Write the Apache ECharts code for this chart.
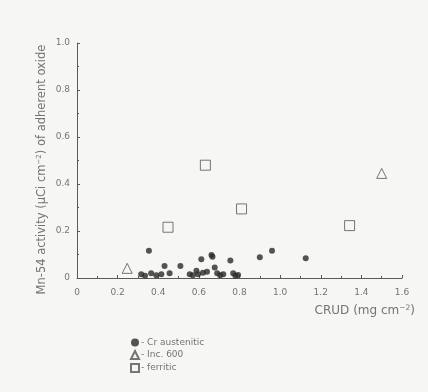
<!DOCTYPE html>
<html>
<head>
<meta charset="utf-8">
<script src="https://cdn.jsdelivr.net/npm/echarts@6/dist/echarts.min.js"></script>
<style>
html,body{margin:0;padding:0;background:#f6f6f4;}
#c{width:428px;height:392px;}
</style>
</head>
<body>
<div id="c"></div>
<script>
// CRUD (mg cm^-2) vs Mn-54 activity
const crAusteniticX = [0.354,0.316,0.365,0.415,0.431,0.456,0.509,0.555,0.588,0.596,0.612,0.640,0.662,0.667,0.678,0.690,0.720,0.755,0.769,0.793,0.900,0.960,1.126,0.335,0.390,0.570,0.620,0.705,0.780];
const crAusteniticY = [0.116,0.016,0.020,0.016,0.051,0.020,0.051,0.016,0.031,0.016,0.080,0.027,0.098,0.090,0.045,0.020,0.016,0.074,0.020,0.013,0.088,0.116,0.084,0.010,0.012,0.012,0.022,0.012,0.010];
const inc600X = [0.247,1.500];
const inc600Y = [0.041,0.445];
const ferriticX = [0.448,0.632,0.810,1.342];
const ferriticY = [0.216,0.480,0.294,0.223];
const seriesNames = ['Cr austenitic','Inc. 600','ferritic'];

function pairs(xs, ys){ return xs.map((x,i)=>[x, ys[i]]); }

const textCol = '#747474';
const axisCol = '#5a5a5a';
const chart = echarts.init(document.getElementById('c'), null, {renderer:'canvas'});
chart.setOption({
  backgroundColor:'#f6f6f4',
  animation:false,
  textStyle:{fontFamily:'DejaVu Sans, sans-serif'},
  grid:{left:77,right:26,top:43,bottom:114,containLabel:false},
  xAxis:{
    type:'value', min:0, max:1.6, interval:0.2,
    axisLine:{lineStyle:{color:axisCol,width:1}},
    axisTick:{inside:true,length:3,lineStyle:{color:axisCol}},
    minorTick:{show:true,splitNumber:2,length:2,lineStyle:{color:axisCol}},
    splitLine:{show:false},
    axisLabel:{color:textCol,fontSize:9,margin:10,formatter:v=>v===0?'0':v.toFixed(1)},
    name:'{a|CRUD (mg cm}{s|−2}{a|)}',
    nameLocation:'end', nameGap:13, nameMoveOverlap:false,
    nameTextStyle:{align:'right',verticalAlign:'top',padding:[26,0,0,0],
      rich:{a:{fontSize:12,color:textCol},s:{fontSize:7.5,color:textCol,verticalAlign:'top',padding:[0,0,5,0]}}}
  },
  yAxis:{
    type:'value', min:0, max:1.0, interval:0.2,
    axisLine:{show:true,lineStyle:{color:axisCol,width:1}},
    axisTick:{show:true,inside:true,length:3,lineStyle:{color:axisCol}},
    minorTick:{show:true,splitNumber:2,length:2,lineStyle:{color:axisCol}},
    splitLine:{show:false},
    axisLabel:{color:textCol,fontSize:9,margin:7,formatter:v=>v===0?'0':v.toFixed(1)},
    name:'{a|Mn-54 activity (μCi cm}{s|−2}{a|) of adherent oxide}',
    nameLocation:'middle', nameGap:29, nameRotate:90, nameMoveOverlap:false,
    nameTextStyle:{padding:[0,18,0,0],rich:{a:{fontSize:11.5,color:textCol},s:{fontSize:7,color:textCol,verticalAlign:'top',padding:[0,0,5,0]}}}
  },
  legend:{
    orient:'vertical', left:125, top:333, itemGap:3, itemWidth:8, itemHeight:8,
    textStyle:{color:textCol,fontSize:9,padding:[0,0,0,-3]},
    formatter:n=>'- '+n,
    data:[
      {name:seriesNames[0],icon:'circle'},
      {name:seriesNames[1],icon:'triangle'},
      {name:seriesNames[2],icon:'rect'}
    ]
  },
  series:[
    {name:seriesNames[0],type:'scatter',symbol:'circle',symbolSize:6,
     itemStyle:{color:'#2a2a2a'},data:pairs(crAusteniticX,crAusteniticY)},
    {name:seriesNames[1],type:'scatter',symbol:'triangle',symbolSize:10,
     itemStyle:{color:'#f6f6f4',borderColor:'#555',borderWidth:1},data:pairs(inc600X,inc600Y)},
    {name:seriesNames[2],type:'scatter',symbol:'rect',symbolSize:10,
     itemStyle:{color:'#f6f6f4',borderColor:'#555',borderWidth:1},data:pairs(ferriticX,ferriticY)}
  ]
});
</script>
</body>
</html>
